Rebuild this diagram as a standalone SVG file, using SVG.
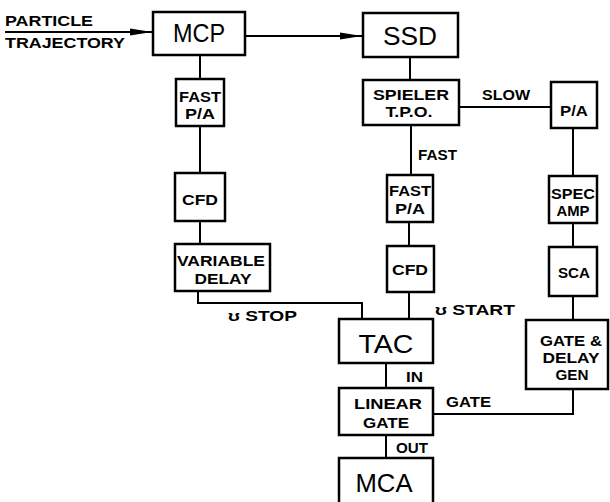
<svg xmlns="http://www.w3.org/2000/svg" width="610" height="502" viewBox="0 0 610 502">
<style>
.box{fill:#fff;stroke:#000;stroke-width:2.5}
.c{fill:none;stroke:#000;stroke-width:2}
.big{font-family:"Liberation Sans",Arial,sans-serif;font-size:26px;text-anchor:middle;fill:#000}
.sm{font-family:"Liberation Sans",Arial,sans-serif;font-size:14px;font-weight:bold;text-anchor:middle;fill:#000}
.lb{font-family:"Liberation Sans",Arial,sans-serif;font-size:15px;font-weight:bold;fill:#000}
</style>
<defs>
<marker id="ah" markerUnits="userSpaceOnUse" markerWidth="24" markerHeight="10" refX="22" refY="4" orient="auto">
<path d="M0,0.5 L22,4 L0,7.5 Z" fill="#000"/>
</marker>
</defs>
<rect width="610" height="502" fill="#fff"/>
<g id="connectors">
<line class="c" x1="5" y1="32" x2="152" y2="32" marker-end="url(#ah)"/>
<line class="c" x1="245" y1="36" x2="362" y2="36" marker-end="url(#ah)"/>
<line class="c" x1="200" y1="55" x2="200" y2="79"/>
<line class="c" x1="200" y1="126" x2="200" y2="173"/>
<line class="c" x1="200" y1="221" x2="200" y2="244"/>
<path class="c" d="M198,291 V303 H362 V319"/>
<line class="c" x1="410" y1="57" x2="410" y2="80"/>
<line class="c" x1="459" y1="107" x2="551" y2="107"/>
<line class="c" x1="411" y1="125" x2="411" y2="175"/>
<line class="c" x1="409" y1="222" x2="409" y2="246"/>
<line class="c" x1="409" y1="292" x2="409" y2="319"/>
<line class="c" x1="573" y1="128" x2="573" y2="176"/>
<line class="c" x1="573" y1="223" x2="573" y2="247"/>
<line class="c" x1="573" y1="296" x2="573" y2="320"/>
<line class="c" x1="386" y1="363" x2="386" y2="388"/>
<path class="c" d="M573,389 V414 H433"/>
<line class="c" x1="386" y1="435" x2="386" y2="458"/>
</g>
<g id="labels">
<text class="lb" x="5" y="26" textLength="88" lengthAdjust="spacingAndGlyphs" font-size="14">PARTICLE</text>
<text class="lb" x="5" y="48" textLength="120" lengthAdjust="spacingAndGlyphs">TRAJECTORY</text>
<text class="lb" x="482" y="100" textLength="48" lengthAdjust="spacingAndGlyphs">SLOW</text>
<text class="lb" x="418" y="160" textLength="39" lengthAdjust="spacingAndGlyphs">FAST</text>
<text class="lb" x="228" y="321" textLength="69" lengthAdjust="spacingAndGlyphs">ʊ STOP</text>
<text class="lb" x="435" y="315" textLength="80" lengthAdjust="spacingAndGlyphs">ʊ START</text>
<text class="lb" x="406" y="382" textLength="17" lengthAdjust="spacingAndGlyphs">IN</text>
<text class="lb" x="396" y="453" textLength="32" lengthAdjust="spacingAndGlyphs">OUT</text>
<text class="lb" x="446" y="407" textLength="45" lengthAdjust="spacingAndGlyphs">GATE</text>
</g>
<g id="mcp"><rect class="box" x="153" y="12" width="92" height="43"/><text class="big" x="199" y="42" textLength="52" lengthAdjust="spacingAndGlyphs">MCP</text></g>
<g id="ssd"><rect class="box" x="363" y="13" width="95" height="44"/><text class="big" x="410" y="45" textLength="54" lengthAdjust="spacingAndGlyphs">SSD</text></g>
<g id="fastpa1"><rect class="box" x="176" y="79" width="48" height="47"/><text class="sm" x="200" y="102" textLength="42" lengthAdjust="spacingAndGlyphs">FAST</text><text class="sm" x="200" y="119" textLength="30" lengthAdjust="spacingAndGlyphs">P/A</text></g>
<g id="spieler"><rect class="box" x="363" y="80" width="96" height="45"/><text class="sm" x="411" y="100" textLength="76" lengthAdjust="spacingAndGlyphs">SPIELER</text><text class="sm" x="409" y="117" textLength="47" lengthAdjust="spacingAndGlyphs">T.P.O.</text></g>
<g id="pa2"><rect class="box" x="551" y="82" width="46" height="46"/><text class="sm" x="574" y="116" textLength="28" lengthAdjust="spacingAndGlyphs">P/A</text></g>
<g id="cfd1"><rect class="box" x="175" y="173" width="50" height="48"/><text class="sm" x="200" y="205" textLength="36" lengthAdjust="spacingAndGlyphs">CFD</text></g>
<g id="fastpa2"><rect class="box" x="387" y="175" width="46" height="47"/><text class="sm" x="410" y="196" textLength="42" lengthAdjust="spacingAndGlyphs">FAST</text><text class="sm" x="410" y="214" textLength="30" lengthAdjust="spacingAndGlyphs">P/A</text></g>
<g id="specamp"><rect class="box" x="549" y="176" width="48" height="47"/><text class="sm" x="573" y="199" textLength="44" lengthAdjust="spacingAndGlyphs">SPEC</text><text class="sm" x="573" y="216" textLength="33" lengthAdjust="spacingAndGlyphs">AMP</text></g>
<g id="vardelay"><rect class="box" x="175" y="244" width="95" height="47"/><text class="sm" x="221" y="266" textLength="88" lengthAdjust="spacingAndGlyphs">VARIABLE</text><text class="sm" x="223" y="284" textLength="57" lengthAdjust="spacingAndGlyphs">DELAY</text></g>
<g id="cfd2"><rect class="box" x="387" y="246" width="47" height="46"/><text class="sm" x="410" y="275" textLength="36" lengthAdjust="spacingAndGlyphs">CFD</text></g>
<g id="sca"><rect class="box" x="549" y="247" width="48" height="49"/><text class="sm" x="574" y="278" textLength="32" lengthAdjust="spacingAndGlyphs">SCA</text></g>
<g id="tac"><rect class="box" x="339" y="319" width="94" height="44"/><text class="big" x="386" y="353" textLength="55" lengthAdjust="spacingAndGlyphs">TAC</text></g>
<g id="gdg"><rect class="box" x="526" y="320" width="82" height="69"/><text class="sm" x="571" y="346" textLength="62" lengthAdjust="spacingAndGlyphs">GATE &amp;</text><text class="sm" x="571" y="363" textLength="57" lengthAdjust="spacingAndGlyphs">DELAY</text><text class="sm" x="572" y="380" textLength="33" lengthAdjust="spacingAndGlyphs">GEN</text></g>
<g id="lineargate"><rect class="box" x="339" y="388" width="94" height="47"/><text class="sm" x="388" y="409" textLength="68" lengthAdjust="spacingAndGlyphs">LINEAR</text><text class="sm" x="386" y="428" textLength="46" lengthAdjust="spacingAndGlyphs">GATE</text></g>
<g id="mca"><rect class="box" x="339" y="458" width="94" height="52"/><text class="big" x="384" y="492" textLength="57" lengthAdjust="spacingAndGlyphs">MCA</text></g>
</svg>
